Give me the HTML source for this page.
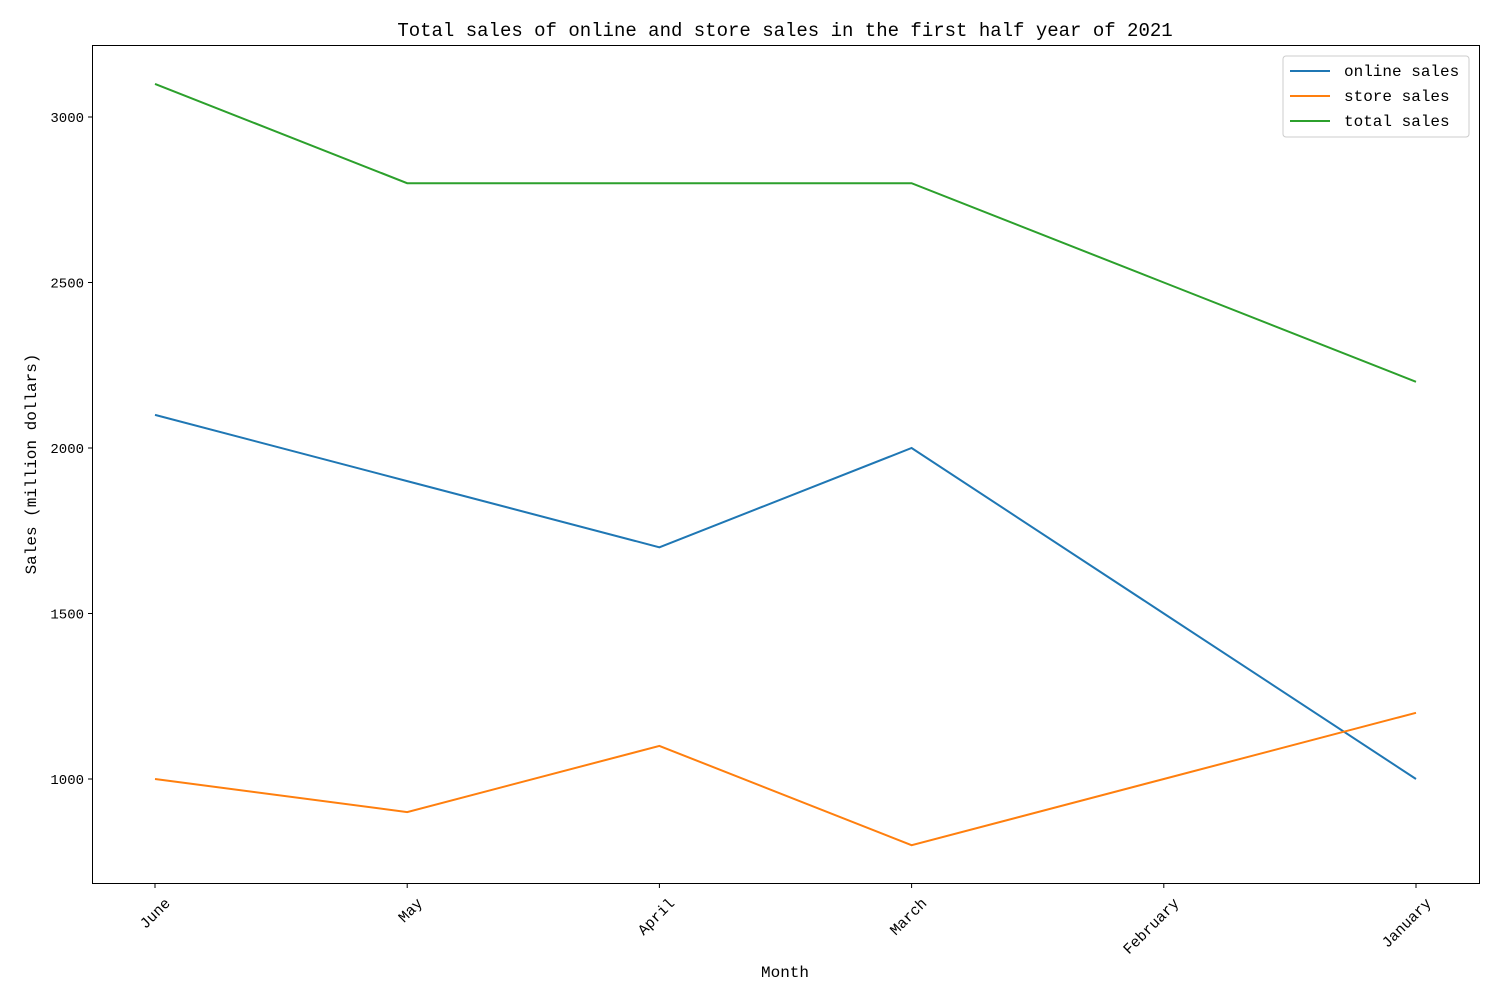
<!DOCTYPE html>
<html><head><meta charset="utf-8"><style>
body{margin:0;background:#fff}
svg text{font-family:"Liberation Mono",monospace;fill:#000}
</style></head><body>
<svg id="chart" width="1500" height="1000" xmlns="http://www.w3.org/2000/svg">
<rect x="0" y="0" width="1500" height="1000" fill="#fff"/>
<text x="785" y="36" font-size="19" text-anchor="middle">Total sales of online and store sales in the first half year of 2021</text>
<g id="axes"></g>
<g id="series"></g>
<rect x="92.5" y="45.5" width="1387" height="838" fill="none" stroke="#000" stroke-width="1"/>
<text x="785" y="977" font-size="16" text-anchor="middle">Month</text>
<text transform="translate(36,464) rotate(-90)" font-size="16" text-anchor="middle">Sales (million dollars)</text>
<g id="legend">
<rect x="1283" y="56" width="186" height="81" fill="#fff" stroke="#ccc" rx="3"/>
</g>
</svg>
<script>
const categories=["June","May","April","March","February","January"];
const onlineSales=[2100,1900,1700,2000,1500,1000];
const storeSales=[1000,900,1100,800,1000,1200];
const totalSales=[3100,2800,2800,2800,2500,2200];
const yTicks=[1000,1500,2000,2500,3000];
const seriesNames=["online sales","store sales","total sales"];
const NS="http://www.w3.org/2000/svg";
function xs(i){return 155+i*(1416-155)/(categories.length-1);}
function ys(v){return 779-(v-1000)*(779-117)/2000;}
function mk(t,a,p){const e=document.createElementNS(NS,t);for(const k in a)e.setAttribute(k,a[k]);p.appendChild(e);return e;}
const axes=document.getElementById('axes');
yTicks.forEach(v=>{const y=ys(v);
const l=mk('line',{x1:88,x2:92,y1:y,y2:y,stroke:'#000'},axes);


const t=mk('text',{x:84,y:y+5,'font-size':14,'text-anchor':'end'},axes);t.textContent=v;

});
categories.forEach((c,i)=>{const x=xs(i);
const l=mk('line',{x1:x,x2:x,y1:884,y2:888,stroke:'#000'},axes);


const t=mk('text',{transform:`translate(${x+16},${904}) rotate(-45)`,'font-size':15,'text-anchor':'end'},axes);t.textContent=c;

});
const colors=["#1f77b4","#ff7f0e","#2ca02c"];
const sg=document.getElementById('series');
[onlineSales,storeSales,totalSales].forEach((d,k)=>{
const p=mk('polyline',{points:d.map((v,i)=>xs(i)+','+ys(v)).join(' '),fill:'none',stroke:colors[k],'stroke-width':2},sg);

});
const lg=document.getElementById('legend');
seriesNames.forEach((n,k)=>{const y=71+k*25;
const l=mk('line',{x1:1290,x2:1330,y1:y,y2:y,stroke:colors[k],'stroke-width':2},lg);


const t=mk('text',{x:1344,y:y+5,'font-size':16},lg);t.textContent=n;

});
</script>
</body></html>
